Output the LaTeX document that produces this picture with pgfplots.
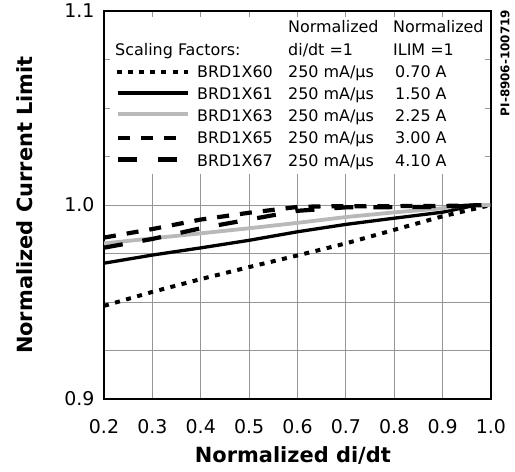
\documentclass[border=0pt]{standalone}
\usepackage{fontspec}
\setmainfont{DejaVu Sans}
\usepackage{pgfplots}
\pgfplotsset{compat=1.18}
\definecolor{lgray}{RGB}{185,185,185}
\definecolor{gridgray}{RGB}{150,150,150}
\begin{document}
\begin{tikzpicture}
\path[use as bounding box] (-104bp,-73bp) rectangle (411bp,399bp);
\begin{axis}[
  at={(0bp,0bp)}, anchor=south west,
  scale only axis, width=387bp, height=388bp,
  xmin=0.2, xmax=1.0, ymin=0.9, ymax=1.1,
  xtick={0.2,0.3,0.4,0.5,0.6,0.7,0.8,0.9,1.0},
  xticklabels={0.2,0.3,0.4,0.5,0.6,0.7,0.8,0.9,1.0},
  ytick={0.9,0.925,0.95,0.975,1.0,1.025,1.05,1.075,1.1},
  yticklabels={0.9,,,,1.0,,,,1.1},
  grid=major, grid style={draw=gridgray, line width=0.9bp},
  tick align=inside, major tick length=5bp,
  tick style={draw=gridgray, line width=0.9bp},
  axis line style={line width=2.6bp},
  ticklabel style={font=\fontsize{19}{21}\selectfont},
  xticklabel style={yshift=-17bp},
  yticklabel style={xshift=-6bp},
  xlabel={Normalized di/dt},
  ylabel={Normalized Current Limit},
  label style={font=\fontsize{21}{24}\selectfont\bfseries},
  xlabel style={at={(axis description cs:0.488,-0.1624)}, anchor=base},
  ylabel style={at={(axis description cs:-0.204,0.5)}, anchor=center},
]
\fill[white] ([xshift=6bp]axis cs:0.2,1.016) rectangle ([xshift=-6bp,yshift=-6bp]axis cs:1.0,1.1);
% BRD1X60 dotted
\addplot[black, line width=4bp, dash pattern=on 5bp off 6.5bp] coordinates {
(0.2,0.948) (0.3,0.9552) (0.4,0.9618) (0.5,0.968) (0.6,0.974) (0.7,0.9802) (0.8,0.9872) (0.9,0.9942) (1.0,1.0)};
% BRD1X61 solid
\addplot[black, line width=3.3bp] coordinates {
(0.2,0.970) (0.3,0.9742) (0.4,0.9779) (0.5,0.9818) (0.6,0.9862) (0.7,0.9900) (0.8,0.9932) (0.9,0.9963) (0.97,1.0) (1.0,1.0)};
% BRD1X63 gray
\addplot[lgray, line width=3.8bp] coordinates {
(0.2,0.9802) (0.3,0.9828) (0.4,0.9854) (0.5,0.988) (0.6,0.9908) (0.7,0.9938) (0.8,0.9962) (0.9,0.9983) (0.95,1.0) (1.0,1.0)};
% BRD1X65 short dash
\addplot[black, line width=4.2bp, dash pattern=on 12bp off 11bp] coordinates {
(0.2,0.9832) (0.3,0.9876) (0.4,0.9925) (0.5,0.996) (0.6,0.999) (0.65,0.9993) (0.9,0.9995) (1.0,1.0)};
% BRD1X67 long dash
\addplot[black, line width=4.2bp, dash pattern=on 19bp off 20bp] coordinates {
(0.2,0.978) (0.3,0.9825) (0.4,0.988) (0.5,0.9925) (0.6,0.997) (0.7,0.9988) (0.9,0.999) (1.0,1.0)};
\end{axis}
% legend
\begin{scope}[every node/.style={anchor=base west, inner sep=0pt, font=\fontsize{16}{18}\selectfont}]
\node at (184bp,366bp) {Normalized};
\node at (289bp,366bp) {Normalized};
\node at (11bp,343bp) {Scaling Factors:};
\node at (184bp,343bp) {di/dt =1};
\node at (289bp,343bp) {ILIM =1};
\node at (93bp,321bp) {BRD1X60};
\node at (93bp,299bp) {BRD1X61};
\node at (93bp,277bp) {BRD1X63};
\node at (93bp,255bp) {BRD1X65};
\node at (93bp,232.5bp) {BRD1X67};
\node at (184bp,321bp) {250 mA/µs};
\node at (184bp,299bp) {250 mA/µs};
\node at (184bp,277bp) {250 mA/µs};
\node at (184bp,255bp) {250 mA/µs};
\node at (184bp,232.5bp) {250 mA/µs};
\node at (291bp,321bp) {0.70 A};
\node at (291bp,299bp) {1.50 A};
\node at (291bp,277bp) {2.25 A};
\node at (291bp,255bp) {3.00 A};
\node at (291bp,232.5bp) {4.10 A};
\end{scope}
\draw[black, line width=4bp, dash pattern=on 5bp off 6.1bp] (13bp,327bp) -- (84bp,327bp);
\draw[black, line width=3.3bp] (14bp,306bp) -- (84bp,306bp);
\draw[lgray, line width=3.8bp] (14bp,285bp) -- (84bp,285bp);
\draw[black, line width=4.2bp, dash pattern=on 12bp off 11bp] (14bp,261bp) -- (73bp,261bp);
\draw[black, line width=4.2bp, dash pattern=on 19bp off 21bp] (14bp,239.5bp) -- (73bp,239.5bp);
\node[rotate=90, inner sep=0pt, font=\fontsize{12}{14}\selectfont\bfseries] at (401bp,336bp) {PI-8906-100719};
\end{tikzpicture}
\end{document}
